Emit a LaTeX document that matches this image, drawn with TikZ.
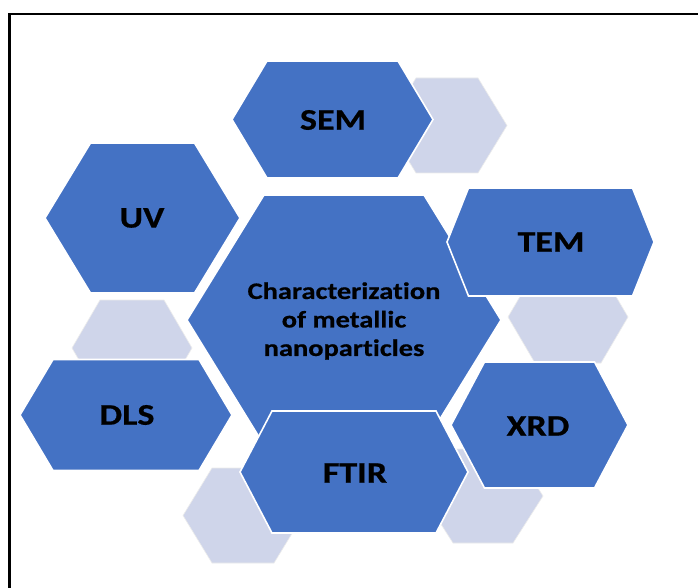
\documentclass[tikz,border=0pt]{standalone}
\usepackage{fontspec}
\setmainfont{Carlito}
\newfontfamily\widefont[FakeStretch=1.2,Ligatures=NoCommon,BoldFeatures={FakeBold=0.6}]{Carlito}
\definecolor{hexblue}{HTML}{4472C4}
\definecolor{hexlight}{HTML}{CFD5EA}
\newcommand\hexshape[6]{\path[#6] (#1-#3,#2) -- (#1-#4,#2-#5) -- (#1+#4,#2-#5) -- (#1+#3,#2) -- (#1+#4,#2+#5) -- (#1-#4,#2+#5) -- cycle;}
\tikzset{
  bluehex/.style={fill=hexblue,draw=white,line width=1.6pt,line join=miter},
  lighthex/.style={fill=hexlight,draw=white!85!gray,line width=0.6pt},
  satlabel/.style={font=\widefont\fontsize{30}{36}\selectfont\bfseries,text=black,inner sep=0pt},
  mainlabel/.style={font=\widefont\fontsize{23.7}{28.5}\selectfont\bfseries,text=black,align=center,inner sep=0pt},
  frameline/.style={line width=2.4pt,black}
}
\begin{document}
\begin{tikzpicture}[x=1pt,y=-1pt]
\useasboundingbox (0,0) rectangle (698,588);
\fill[white] (0,0) rectangle (698,588);
% frame
\coordinate (ftl) at (9.5,14);
\coordinate (ftr) at (698,14);
\coordinate (fbl) at (9.5,588);
\draw[frameline] (fbl) -- (ftl) -- (ftr);
% light hexagons
\hexshape{447}{125.5}{60}{31}{47.5}{lighthex}
\hexshape{132}{348}{60}{32}{48}{lighthex}
\hexshape{568}{317}{60}{33}{46}{lighthex}
\hexshape{243}{515.5}{60}{31}{47.5}{lighthex}
\hexshape{483}{496}{60}{30}{47}{lighthex}
% central hexagon
\hexshape{344}{320}{157}{80}{125}{bluehex}
% satellites
\hexshape{332.5}{119.5}{100.5}{65.5}{58.5}{bluehex}
\hexshape{142.5}{218}{97.5}{52}{75}{bluehex}
\hexshape{550.5}{242}{103.5}{82}{54}{bluehex}
\hexshape{126}{415}{106}{73}{55.5}{bluehex}
\hexshape{539.5}{425}{88.5}{55}{63}{bluehex}
\hexshape{354}{472}{114}{82}{61}{bluehex}
% labels
\node[mainlabel] (main) at (344,321) {Characterization\\of metallic\\nanoparticles};
\node[satlabel] (sem) at (333,120) {SEM};
\node[satlabel] (uv) at (142,218) {UV};
\node[satlabel] (tem) at (551,242) {TEM};
\node[satlabel] (dls) at (127,415) {DLS};
\node[satlabel] (xrd) at (538,426) {XRD};
\node[satlabel] (ftir) at (355,473) {FTIR};
\end{tikzpicture}
\end{document}
